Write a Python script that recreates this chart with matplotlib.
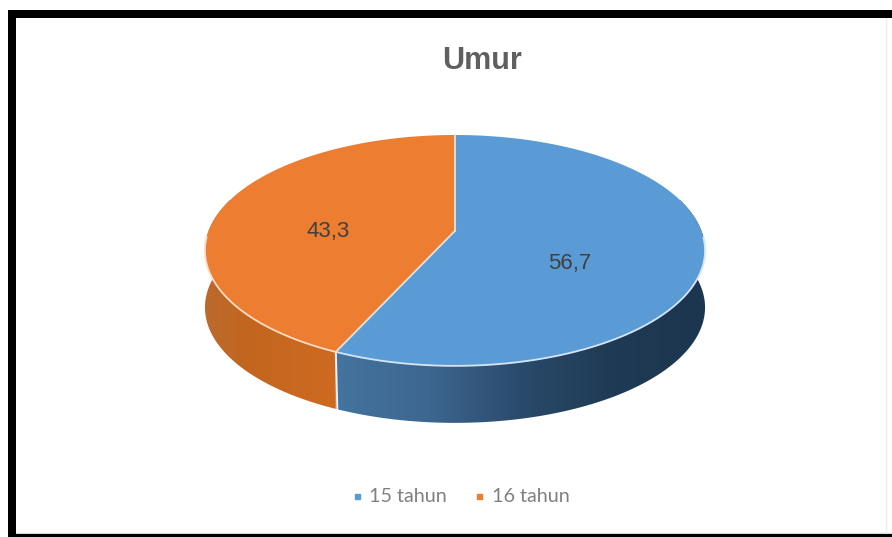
import numpy as np
from matplotlib import pyplot as plt
from matplotlib.colors import LinearSegmentedColormap
from matplotlib.lines import Line2D
from matplotlib.patches import Polygon, Rectangle

title = 'Umur'
categories = ['15 tahun', '16 tahun']
values = [56.7, 43.3]
value_labels = ['56,7', '43,3']
colors = ['#5B9BD5', '#ED7D31']
rim_colors = ['#D5E5F5', '#FBDDC6']
wall_colors = [['#44749F', '#3D6690', '#2A4A6B', '#1F3A54', '#1D3650'],
               ['#BC6A30', '#C2661F', '#C96820', '#CE6A20']]

# pie geometry in pixels
cx, a = 455, 246.4
top_y, px_b = 135, 112.1
depth = 57
k = 0.17


def project(theta):
    # tilted circle, the front is nearer so it comes out wider
    x, y = np.cos(theta), np.sin(theta)
    w = 1 + k * y
    return cx + a * x / w, top_y + px_b * (1 / (1 + k) - y / w)


fig = plt.figure(figsize=(8.92, 5.37), dpi=100)
ax = fig.add_axes([0, 0, 1, 1])

centre = (cx, top_y + px_b / (1 + k))

angle = np.pi / 2
for i, v in enumerate(values):
    sweep = 2 * np.pi * v / sum(values)
    th = np.linspace(angle, angle - sweep, 300)
    px, py = project(th)

    # side wall, gradient clipped to the rim band
    wall = Polygon(np.r_[np.c_[px, py], np.c_[px, py + depth][::-1]],
                   closed=True, fc='none', ec='none', transform=ax.transData)
    ax.add_patch(wall)
    cmap = LinearSegmentedColormap.from_list('wall%d' % i, wall_colors[i])
    extent = (336, 706, 480, 200) if i == 0 else (204, 336, 480, 200)
    grad = np.linspace(0, 1, 256).reshape(1, -1)
    im = ax.imshow(grad, cmap=cmap, extent=extent, aspect='auto', zorder=2)
    im.set_clip_path(wall)

    # top face, pale rim only along the front
    ax.add_patch(Polygon(np.r_[[centre], np.c_[px, py]], closed=True,
                         fc=colors[i], ec='none', zorder=3))
    front = np.sin(th) < -0.05
    ax.plot(px[front], py[front], color=rim_colors[i], lw=1.3, zorder=4)
    ax.plot([centre[0], px[0]], [centre[1], py[0]], color='#E3E3DF', lw=1.3, zorder=4)
    if i == 0:
        # white edge where the two walls meet
        ax.plot([px[-1], px[-1] + 1.5], [py[-1], py[-1] + depth], color='#F2F2F2', lw=1.4, zorder=4)
    angle -= sweep

ax.text(570, 263, value_labels[0], ha='center', va='center', color='#404040',
        fontsize=16, family='Liberation Sans', zorder=5)
ax.text(328, 232, value_labels[1], ha='center', va='center', color='#404040',
        fontsize=16, family='Liberation Sans', zorder=5)
ax.text(481.5, 61, title, ha='center', va='center', color='#5F5F5F',
        fontsize=22, fontweight='bold', family='Liberation Sans', zorder=5)

handles = [Line2D([], [], ls='none', marker='s', ms=3.6, color=c) for c in colors]
ax.legend(handles, categories, loc='center', bbox_to_anchor=(457 / 892, 1 - 497 / 537),
          ncol=2, frameon=False, labelcolor='#808080',
          prop={'family': 'Lato', 'size': 14.2}, handletextpad=0.05,
          columnspacing=1.0, handlelength=1.2)

# black frame, the picture is cut off at the right
ax.add_patch(Rectangle((8, 10), 884, 8, fc='black', ec='none', zorder=6))
ax.add_patch(Rectangle((8, 10), 8, 527, fc='black', ec='none', zorder=6))
ax.add_patch(Rectangle((8, 533.5), 884, 4, fc='black', ec='none', zorder=6))
ax.plot([16, 892], [532.5, 532.5], color='#D8D8D8', lw=1, zorder=5)
ax.plot([885.5, 885.5], [18, 533], color='#EDEDED', lw=1, zorder=5)

ax.set_xlim(0, 892)
ax.set_ylim(537, 0)
ax.axis('off')

plt.savefig('out.png', dpi=100)
